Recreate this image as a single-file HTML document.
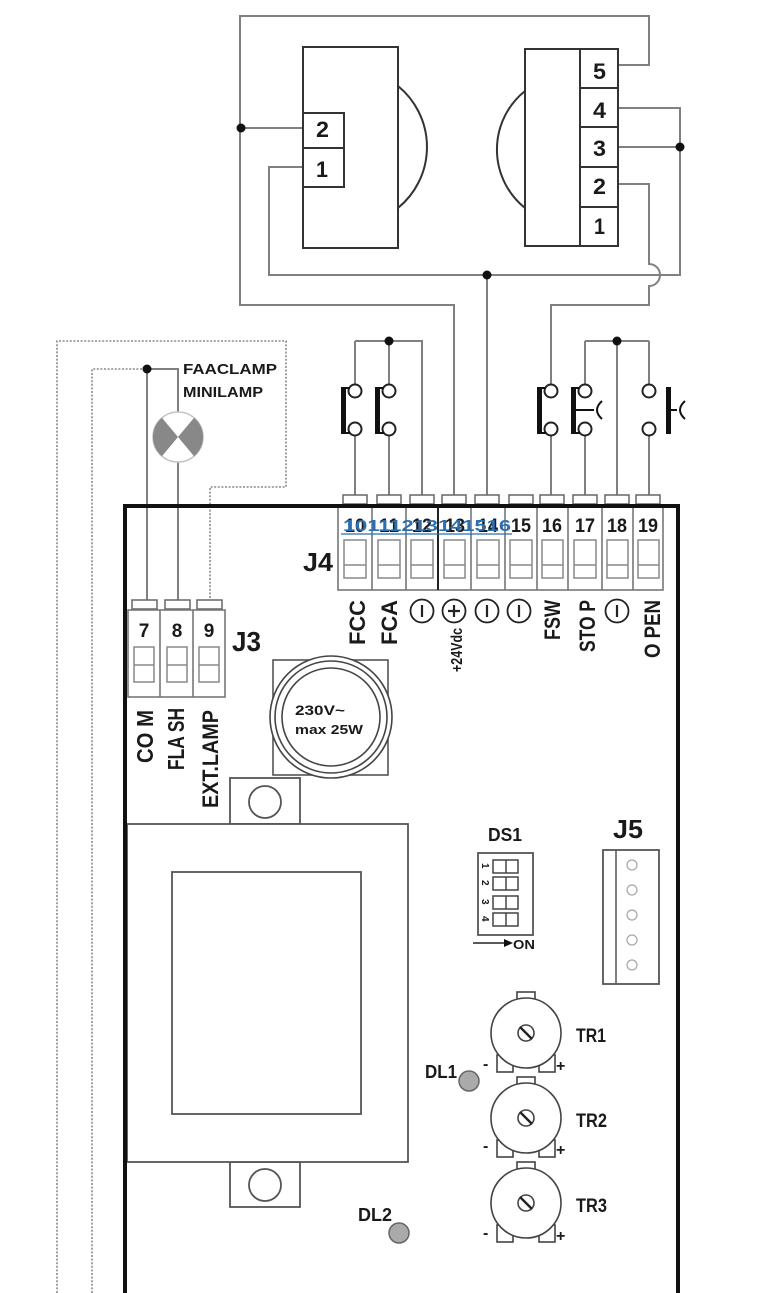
<!DOCTYPE html>
<html><head><meta charset="utf-8">
<style>
html,body{margin:0;padding:0;background:#fff;}
svg{display:block;}
text{font-family:"Liberation Sans",Arial,sans-serif;font-weight:bold;fill:#1a1a1a;}
</style></head><body>
<svg width="777" height="1293" viewBox="0 0 777 1293" xmlns="http://www.w3.org/2000/svg">

<!-- ================= WIRES ================= -->
<g fill="none" stroke="#808080" stroke-width="2">
  <!-- outer loop from RX terminal 5 to terminal 13 -->
  <path d="M618,65 H649 V16 H240 V305 H454 V495"/>
  <!-- TX terminal 2 -->
  <path d="M240,128 H303"/>
  <!-- TX terminal 1 / common -->
  <path d="M303,167 H269 V275 H680 V108 H618"/>
  <path d="M618,147 H680"/>
  <path d="M487,275 V495"/>
  <!-- RX terminal 2 to FSW with hop -->
  <path d="M618,184 H649 V264 A11,11 0 0 1 649,286 V305 H551 V384.5"/>
  <path d="M551,435.5 V495"/>
  <!-- left switch group -->
  <path d="M355,341 H422 V495"/>
  <path d="M355,341 V384.5 M355,435.5 V495"/>
  <path d="M389,341 V384.5 M389,435.5 V495"/>
  <!-- right switch group -->
  <path d="M585,341 H649"/>
  <path d="M585,341 V384.5 M585,435.5 V495"/>
  <path d="M617,341 V495"/>
  <path d="M649,341 V384.5 M649,435.5 V495"/>
  <!-- lamp wires -->
  <path d="M147,369 V600"/>
  <path d="M147,369 H178 V412"/>
  <path d="M178,462 V600"/>
</g>
<!-- dotted wires -->
<g fill="none" stroke="#8a8a8a" stroke-width="1.6" stroke-dasharray="2,1.6">
  <path d="M57,1293 V341 H286 V487 H210 V600"/>
  <path d="M92,1293 V369 H147"/>
</g>
<!-- junction dots -->
<g fill="#111">
  <circle cx="241" cy="128" r="4.5"/>
  <circle cx="680" cy="147" r="4.5"/>
  <circle cx="487" cy="275" r="4.5"/>
  <circle cx="389" cy="341" r="4.5"/>
  <circle cx="617" cy="341" r="4.5"/>
  <circle cx="147" cy="369" r="4.5"/>
</g>

<!-- ================= PHOTOCELLS ================= -->
<g fill="none" stroke="#333" stroke-width="2">
  <rect x="303" y="47" width="95" height="201" fill="#fff"/>
  <rect x="303" y="113" width="41" height="35"/>
  <rect x="303" y="148" width="41" height="39"/>
  <path d="M398,86 A78.7,78.7 0 0 1 398,208"/>
  <rect x="525" y="49" width="93" height="197" fill="#fff"/>
  <path d="M580,49 V246 M580,88 H618 M580,127 H618 M580,167 H618 M580,207 H618"/>
  <path d="M525,91 A75,75 0 0 0 525,208"/>
</g>
<g font-size="22">
  <text x="316" y="137" textLength="13" lengthAdjust="spacingAndGlyphs">2</text>
  <text x="316" y="177" textLength="12" lengthAdjust="spacingAndGlyphs">1</text>
  <text x="593" y="79" textLength="13" lengthAdjust="spacingAndGlyphs">5</text>
  <text x="593" y="118" textLength="13" lengthAdjust="spacingAndGlyphs">4</text>
  <text x="593" y="156" textLength="13" lengthAdjust="spacingAndGlyphs">3</text>
  <text x="593" y="194" textLength="13" lengthAdjust="spacingAndGlyphs">2</text>
  <text x="594" y="234" textLength="11" lengthAdjust="spacingAndGlyphs">1</text>
</g>

<!-- ================= SWITCHES ================= -->
<g fill="#fff" stroke="#222" stroke-width="2">
  <circle cx="355" cy="391" r="6.5"/><circle cx="355" cy="429" r="6.5"/>
  <circle cx="389" cy="391" r="6.5"/><circle cx="389" cy="429" r="6.5"/>
  <circle cx="551" cy="391" r="6.5"/><circle cx="551" cy="429" r="6.5"/>
  <circle cx="585" cy="391" r="6.5"/><circle cx="585" cy="429" r="6.5"/>
  <circle cx="649" cy="391" r="6.5"/><circle cx="649" cy="429" r="6.5"/>
</g>
<g fill="#111">
  <rect x="341" y="387" width="5" height="47"/>
  <rect x="375" y="387" width="5" height="47"/>
  <rect x="537" y="387" width="5" height="47"/>
  <rect x="571" y="387" width="5" height="47"/>
  <rect x="666" y="387" width="5" height="47"/>
</g>
<g fill="none" stroke="#111" stroke-width="2">
  <path d="M345,388 H350 M345,433 H350"/>
  <path d="M379,388 H384 M379,433 H384"/>
  <path d="M541,388 H546 M541,433 H546"/>
  <path d="M575,388 H580 M575,433 H580"/>
  <path d="M575,410 H594"/>
  <path d="M602,401 Q592,410 602,419"/>
  <path d="M670,410 H677"/>
  <path d="M685,401 Q675,410 685,419"/>
</g>

<!-- ================= LAMP ================= -->
<circle cx="178" cy="437" r="25" fill="#fff" stroke="#c4c4c4" stroke-width="1.5"/>
<path d="M178,437 L194.1,417.8 A25,25 0 0 1 194.1,456.2 Z" fill="#888"/>
<path d="M178,437 L161.9,456.2 A25,25 0 0 1 161.9,417.8 Z" fill="#888"/>
<text x="183" y="374" font-size="15" textLength="94" lengthAdjust="spacingAndGlyphs">FAACLAMP</text>
<text x="183" y="397" font-size="15" textLength="80" lengthAdjust="spacingAndGlyphs">MINILAMP</text>

<!-- ================= J4 TERMINAL BLOCK ================= -->
<g fill="#fff" stroke="#666" stroke-width="1.5">
  <rect x="343" y="495" width="24" height="9"/>
  <rect x="377" y="495" width="24" height="9"/>
  <rect x="410" y="495" width="24" height="9"/>
  <rect x="442" y="495" width="24" height="9"/>
  <rect x="475" y="495" width="24" height="9"/>
  <rect x="509" y="495" width="24" height="9"/>
  <rect x="540" y="495" width="24" height="9"/>
  <rect x="573" y="495" width="24" height="9"/>
  <rect x="605" y="495" width="24" height="9"/>
  <rect x="636" y="495" width="24" height="9"/>
</g>
<g fill="none" stroke="#777" stroke-width="1.6">
  <rect x="338" y="505" width="325" height="85"/>
  <path d="M372,505 V590 M406,505 V590 M471,505 V590 M505,505 V590 M537,505 V590 M568,505 V590 M602,505 V590 M633,505 V590"/>
</g>
<path d="M438,505 V590" stroke="#222" stroke-width="2"/>
<g fill="none" stroke="#888" stroke-width="1.5">
  <rect x="344" y="540" width="22" height="38"/><path d="M344,565 H366"/>
  <rect x="378" y="540" width="22" height="38"/><path d="M378,565 H400"/>
  <rect x="411" y="540" width="22" height="38"/><path d="M411,565 H433"/>
  <rect x="444" y="540" width="21" height="38"/><path d="M444,565 H465"/>
  <rect x="477" y="540" width="22" height="38"/><path d="M477,565 H499"/>
  <rect x="510" y="540" width="22" height="38"/><path d="M510,565 H532"/>
  <rect x="542" y="540" width="21" height="38"/><path d="M542,565 H563"/>
  <rect x="574" y="540" width="22" height="38"/><path d="M574,565 H596"/>
  <rect x="607" y="540" width="21" height="38"/><path d="M607,565 H628"/>
  <rect x="638" y="540" width="21" height="38"/><path d="M638,565 H659"/>
</g>
<g font-size="19" text-anchor="middle">
  <text x="355" y="532" textLength="20" lengthAdjust="spacingAndGlyphs">10</text>
  <text x="389" y="532" textLength="20" lengthAdjust="spacingAndGlyphs">11</text>
  <text x="422" y="532" textLength="20" lengthAdjust="spacingAndGlyphs">12</text>
  <text x="455" y="532" textLength="20" lengthAdjust="spacingAndGlyphs">13</text>
  <text x="488" y="532" textLength="20" lengthAdjust="spacingAndGlyphs">14</text>
  <text x="521" y="532" textLength="20" lengthAdjust="spacingAndGlyphs">15</text>
  <text x="552" y="532" textLength="20" lengthAdjust="spacingAndGlyphs">16</text>
  <text x="585" y="532" textLength="20" lengthAdjust="spacingAndGlyphs">17</text>
  <text x="617" y="532" textLength="20" lengthAdjust="spacingAndGlyphs">18</text>
  <text x="648" y="532" textLength="20" lengthAdjust="spacingAndGlyphs">19</text>
</g>
<text x="343" y="531" font-size="16" textLength="168" lengthAdjust="spacingAndGlyphs" style="fill:#2b6fb3">10111213141516</text>
<path d="M341,534 H512" stroke="#2b6fb3" stroke-width="1.2"/>
<text x="303" y="571" font-size="26" textLength="30" lengthAdjust="spacingAndGlyphs">J4</text>

<!-- J4 labels -->
<g font-size="22">
  <text transform="translate(365,645) rotate(-90)" textLength="45" lengthAdjust="spacingAndGlyphs">FCC</text>
  <text transform="translate(397,645) rotate(-90)" textLength="45" lengthAdjust="spacingAndGlyphs">FCA</text>
  <text transform="translate(560,640) rotate(-90)" textLength="40" lengthAdjust="spacingAndGlyphs">FSW</text>
  <text transform="translate(595,652) rotate(-90)" textLength="52" lengthAdjust="spacingAndGlyphs">STO P</text>
  <text transform="translate(660,658) rotate(-90)" textLength="58" lengthAdjust="spacingAndGlyphs">O PEN</text>
</g>
<text transform="translate(462,672) rotate(-90)" font-size="16" textLength="44" lengthAdjust="spacingAndGlyphs">+24Vdc</text>
<g fill="#fff" stroke="#222" stroke-width="1.8">
  <circle cx="422" cy="611" r="11.5"/>
  <circle cx="454" cy="611" r="11.5"/>
  <circle cx="487" cy="611" r="11.5"/>
  <circle cx="519" cy="611" r="11.5"/>
  <circle cx="617" cy="611" r="11.5"/>
</g>
<g stroke="#222" stroke-width="2.2">
  <path d="M422,605 V617"/>
  <path d="M454,605 V617 M448,611 H460"/>
  <path d="M487,605 V617"/>
  <path d="M519,605 V617"/>
  <path d="M617,605 V617"/>
</g>

<!-- ================= J3 ================= -->
<g fill="#fff" stroke="#666" stroke-width="1.5">
  <rect x="132" y="600" width="25" height="9"/>
  <rect x="165" y="600" width="25" height="9"/>
  <rect x="197" y="600" width="25" height="9"/>
</g>
<g fill="none" stroke="#777" stroke-width="1.6">
  <rect x="128" y="610" width="97" height="87"/>
  <path d="M160,610 V697 M193,610 V697"/>
</g>
<g fill="none" stroke="#888" stroke-width="1.5">
  <rect x="134" y="647" width="20" height="35"/><path d="M134,665 H154"/>
  <rect x="167" y="647" width="20" height="35"/><path d="M167,665 H187"/>
  <rect x="199" y="647" width="20" height="35"/><path d="M199,665 H219"/>
</g>
<g font-size="19" text-anchor="middle">
  <text x="144" y="637">7</text>
  <text x="177" y="637">8</text>
  <text x="209" y="637">9</text>
</g>
<text x="232" y="651" font-size="28" textLength="29" lengthAdjust="spacingAndGlyphs">J3</text>
<g font-size="23">
  <text transform="translate(153,763) rotate(-90)" textLength="53" lengthAdjust="spacingAndGlyphs">CO M</text>
  <text transform="translate(184,770) rotate(-90)" textLength="62" lengthAdjust="spacingAndGlyphs">FLA SH</text>
  <text transform="translate(218,808) rotate(-90)" font-size="22" textLength="98" lengthAdjust="spacingAndGlyphs">EXT.LAMP</text>
</g>

<!-- ================= LAMP HOLDER / FUSE ================= -->
<rect x="273" y="660" width="115" height="115" fill="#fff" stroke="#555" stroke-width="1.6"/>
<circle cx="331" cy="717" r="61" fill="#fff" stroke="#444" stroke-width="1.6"/>
<circle cx="331" cy="717" r="56" fill="none" stroke="#444" stroke-width="1.6"/>
<circle cx="331" cy="717" r="49" fill="none" stroke="#444" stroke-width="1.6"/>
<text x="295" y="715" font-size="14" textLength="50" lengthAdjust="spacingAndGlyphs">230V~</text>
<text x="295" y="734" font-size="13" textLength="68" lengthAdjust="spacingAndGlyphs">max 25W</text>

<!-- ================= TRANSFORMER ================= -->
<g fill="#fff" stroke="#555" stroke-width="1.8">
  <rect x="230" y="778" width="70" height="46"/>
  <rect x="230" y="1162" width="70" height="45"/>
  <rect x="127" y="824" width="281" height="338"/>
  <rect x="172" y="872" width="189" height="242"/>
  <circle cx="265" cy="802" r="16"/>
  <circle cx="265" cy="1185" r="16"/>
</g>

<!-- ================= DS1 ================= -->
<text x="488" y="841" font-size="18" textLength="34" lengthAdjust="spacingAndGlyphs">DS1</text>
<rect x="478" y="853" width="55" height="82" fill="#fff" stroke="#555" stroke-width="1.8"/>
<g fill="#fff" stroke="#444" stroke-width="1.5">
  <rect x="493" y="860" width="25" height="13"/><path d="M506,860 V873"/>
  <rect x="493" y="877" width="25" height="13"/><path d="M506,877 V890"/>
  <rect x="493" y="896" width="25" height="13"/><path d="M506,896 V909"/>
  <rect x="493" y="913" width="25" height="13"/><path d="M506,913 V926"/>
</g>
<g font-size="10">
  <text transform="translate(482,863) rotate(90)">1</text>
  <text transform="translate(482,880) rotate(90)">2</text>
  <text transform="translate(482,899) rotate(90)">3</text>
  <text transform="translate(482,916) rotate(90)">4</text>
</g>
<path d="M473,943 H506" stroke="#222" stroke-width="1.5"/>
<path d="M504,939 L513,943 L504,947 Z" fill="#111"/>
<text x="513" y="949" font-size="13" textLength="22" lengthAdjust="spacingAndGlyphs">ON</text>

<!-- ================= J5 ================= -->
<text x="613" y="838" font-size="26" textLength="30" lengthAdjust="spacingAndGlyphs">J5</text>
<rect x="603" y="850" width="56" height="134" fill="#fff" stroke="#555" stroke-width="1.8"/>
<path d="M616,850 V984" stroke="#555" stroke-width="1.5"/>
<g fill="#fff" stroke="#aaa" stroke-width="1.3">
  <circle cx="632" cy="865" r="5"/>
  <circle cx="632" cy="890" r="5"/>
  <circle cx="632" cy="915" r="5"/>
  <circle cx="632" cy="940" r="5"/>
  <circle cx="632" cy="965" r="5"/>
</g>

<!-- ================= TRIMMERS ================= -->
<g fill="#fff" stroke="#444" stroke-width="1.6">
  <!-- TR1 -->
  <rect x="517" y="992" width="18" height="10"/>
  <rect x="497" y="1055" width="16" height="17"/>
  <rect x="539" y="1055" width="16" height="17"/>
  <circle cx="526" cy="1033" r="35"/>
  <circle cx="526" cy="1033" r="8"/>
  <!-- TR2 -->
  <rect x="517" y="1077" width="18" height="10"/>
  <rect x="497" y="1140" width="16" height="17"/>
  <rect x="539" y="1140" width="16" height="17"/>
  <circle cx="526" cy="1118" r="35"/>
  <circle cx="526" cy="1118" r="8"/>
  <!-- TR3 -->
  <rect x="517" y="1162" width="18" height="10"/>
  <rect x="497" y="1225" width="16" height="17"/>
  <rect x="539" y="1225" width="16" height="17"/>
  <circle cx="526" cy="1203" r="35"/>
  <circle cx="526" cy="1203" r="8"/>
</g>
<g stroke="#222" stroke-width="2.4">
  <path d="M520,1027 L532,1039"/>
  <path d="M520,1112 L532,1124"/>
  <path d="M520,1197 L532,1209"/>
</g>
<g font-size="19">
  <text x="576" y="1042" textLength="30" lengthAdjust="spacingAndGlyphs">TR1</text>
  <text x="576" y="1127" textLength="31" lengthAdjust="spacingAndGlyphs">TR2</text>
  <text x="576" y="1212" textLength="31" lengthAdjust="spacingAndGlyphs">TR3</text>
</g>
<g font-size="16">
  <text x="483" y="1069">-</text>
  <text x="556" y="1071">+</text>
  <text x="483" y="1151">-</text>
  <text x="556" y="1155">+</text>
  <text x="483" y="1238">-</text>
  <text x="556" y="1241">+</text>
</g>

<!-- ================= LEDs ================= -->
<text x="425" y="1078" font-size="18" textLength="32" lengthAdjust="spacingAndGlyphs">DL1</text>
<circle cx="469" cy="1081" r="10" fill="#aaa" stroke="#666" stroke-width="1.5"/>
<text x="358" y="1221" font-size="18" textLength="34" lengthAdjust="spacingAndGlyphs">DL2</text>
<circle cx="399" cy="1233" r="10" fill="#aaa" stroke="#666" stroke-width="1.5"/>

<!-- ================= BOARD BORDER ================= -->
<path d="M125,1293 V506 H678 V1293" fill="none" stroke="#111" stroke-width="4"/>

</svg>
</body></html>
